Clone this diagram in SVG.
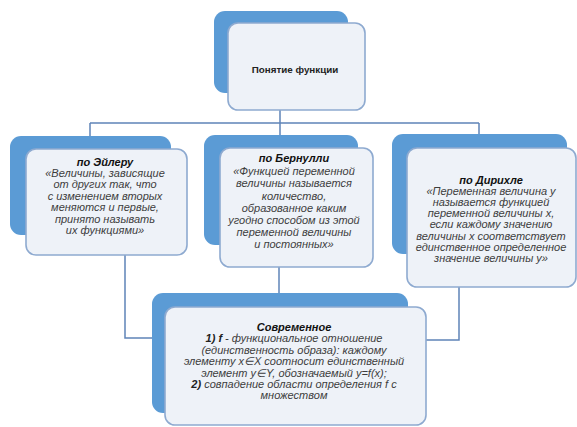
<svg xmlns="http://www.w3.org/2000/svg" width="577" height="427" viewBox="0 0 577 427">
<style>
.back{fill:#5b9bd5;}
.front{fill:#eef2f8;stroke:#8eaad0;stroke-width:1.6;}
.conn{fill:none;stroke:#5f84b8;stroke-width:1.5;}
text{font-family:"Liberation Sans",Arial,sans-serif;text-anchor:middle;}
.t{font-size:11px;font-style:italic;fill:#3d3d3d;}
.h{font-size:11px;font-style:italic;font-weight:bold;fill:#111;}
.b{font-weight:bold;fill:#222;}
</style>
<rect width="577" height="427" fill="#ffffff"/>
<g id="connectors">
<path class="conn" d="M280,110 V123 M90,123 H479 M90,123 V137 M280,123 V136 M479,123 V135"/>
<path class="conn" d="M125,255 V338 H153"/>
<path class="conn" d="M279,267 V294"/>
<path class="conn" d="M459,287 V340 H426"/>
</g>
<g id="node-top">
<rect class="back" x="214" y="11" width="134" height="82" rx="11"/>
<rect class="front" x="228" y="23" width="137" height="87" rx="10"/>
<text x="295" y="73" style="font-size:9.8px;font-weight:bold;fill:#222;">Понятие функции</text>
</g>
<g id="node-euler">
<rect class="back" x="10" y="136" width="161" height="99" rx="11"/>
<rect class="front" x="26" y="149" width="161" height="106" rx="10"/>
<text class="h" x="105" y="166">по Эйлеру</text>
<text class="t" x="105" y="177">«Величины, зависящие</text>
<text class="t" x="105" y="188">от других так, что</text>
<text class="t" x="105" y="200">с изменением вторых</text>
<text class="t" x="105" y="211">меняются и первые,</text>
<text class="t" x="105" y="223">принято называть</text>
<text class="t" x="105" y="234">их функциями»</text>
</g>
<g id="node-bernoulli">
<rect class="back" x="204" y="135" width="154" height="110" rx="11"/>
<rect class="front" x="220" y="148" width="153" height="119" rx="10"/>
<text class="h" x="294" y="162">по Бернулли</text>
<text class="t" x="294" y="175">«Функцией переменной</text>
<text class="t" x="294" y="187">величины называется</text>
<text class="t" x="294" y="200">количество,</text>
<text class="t" x="294" y="212">образованное каким</text>
<text class="t" x="294" y="224">угодно способом из этой</text>
<text class="t" x="294" y="236">переменной величины</text>
<text class="t" x="294" y="248">и постоянных»</text>
</g>
<g id="node-dirichlet">
<rect class="back" x="392" y="134" width="175" height="120" rx="11"/>
<rect class="front" x="407" y="148" width="169" height="139" rx="10"/>
<text class="h" x="491" y="184">по Дирихле</text>
<text class="t" x="491" y="195">«Переменная величина у</text>
<text class="t" x="491" y="206">называется функцией</text>
<text class="t" x="491" y="217">переменной величины х,</text>
<text class="t" x="491" y="228">если каждому значению</text>
<text class="t" x="491" y="240">величины х  соответствует</text>
<text class="t" x="491" y="251">единственное определенное</text>
<text class="t" x="491" y="262">значение величины у»</text>
</g>
<g id="node-modern">
<rect class="back" x="152" y="293" width="256" height="120" rx="11"/>
<rect class="front" x="165" y="307" width="261" height="118" rx="10"/>
<text class="h" x="294" y="331">Современное</text>
<text class="t" x="294" y="342"><tspan class="b">1)</tspan> <tspan class="b">f</tspan>  - функциональное отношение</text>
<text class="t" x="294" y="354">(единственность образа): каждому</text>
<text class="t" x="294" y="365">элементу x∈X соотносит единственный</text>
<text class="t" x="294" y="377">элемент y∈Y, обозначаемый y=f(x);</text>
<text class="t" x="294" y="388"><tspan class="b">2)</tspan> совпадение области определения f с</text>
<text class="t" x="294" y="399">множеством</text>
</g>
</svg>
